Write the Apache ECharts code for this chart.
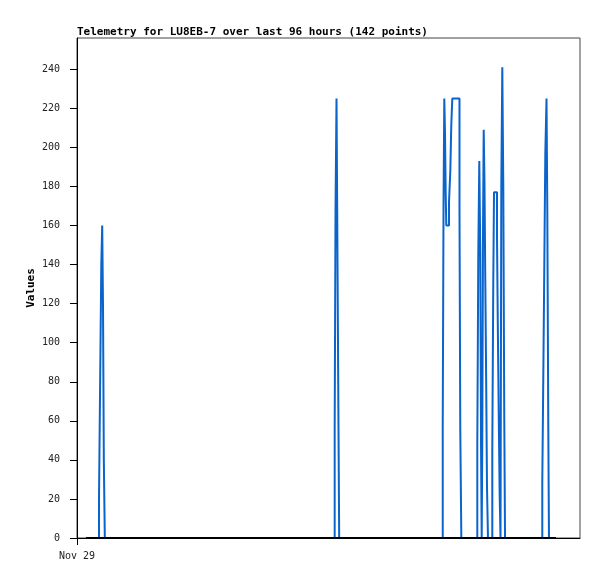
<!DOCTYPE html>
<html><head><meta charset="utf-8">
<script src="https://cdn.jsdelivr.net/npm/echarts@6/dist/echarts.min.js"></script>
<style>html,body{margin:0;padding:0;background:#fff}#c{width:597px;height:579px}</style>
</head><body><div id="c"></div>
<script>
// time in hours since axis start (Nov 29)
const hours = [1.72,
  4.20,4.33,4.49,4.64,4.81,4.96,5.12,5.31,
  49.18,49.34,49.53,49.66,49.91,50.04,
  69.80,69.95,70.10,70.23,70.37,70.48,71.00,71.25,71.44,71.63,73.00,73.15,73.35,
  76.40,76.59,76.78,76.97,77.11,77.24,77.35,77.49,77.62,77.77,77.93,78.10,78.25,78.44,
  79.26,79.45,79.59,80.16,80.31,80.48,80.67,80.83,80.98,81.17,81.36,81.55,81.69,
  88.80,89.00,89.19,89.38,89.61,89.76,89.95,90.08,91.42];
const values = [0,
  20,56,100,140,160,120,40,0,
  56,168,225,168,56,0,
  56,168,225,208,176,160,172,188,212,225,168,56,0,
  48,146,193,146,48,0,52,157,209,182,130,78,26,0,
  44,132,177,154,110,66,22,0,180,241,180,60,0,
  28,84,140,197,225,168,56,0,0];
const baseHours = [1.72, 91.42];
const baseValues = [0, 0];
const yTicks = [0,20,40,60,80,100,120,140,160,180,200,220,240];
const xLabel = 'Nov 29';
const titleText = 'Telemetry for LU8EB-7 over last 96 hours (142 points)';

const pts = hours.map((h,i)=>[h, values[i]]);
const base = baseHours.map((h,i)=>[h, baseValues[i]]);

const mono = 'DejaVu Sans Mono, monospace';
const chart = echarts.init(document.getElementById('c'), null, {renderer:'canvas'});
chart.setOption({
  animation:false,
  backgroundColor:'#fff',
  title:{text:titleText,left:77,top:27,padding:0,
    textStyle:{fontFamily:mono,fontSize:11,fontWeight:'bold',color:'#000'}},
  grid:{left:77,right:17,top:38,bottom:41,show:true,borderColor:'#444',borderWidth:1,backgroundColor:'#fff'},
  xAxis:{type:'value',min:0,max:96,
    axisLine:{show:true,lineStyle:{color:'#000',width:1}},
    axisTick:{show:true,length:7,customValues:[0],lineStyle:{color:'#000'}},
    axisLabel:{customValues:[0],formatter:()=>xLabel,fontFamily:mono,fontSize:10,color:'#222',margin:13},
    splitLine:{show:false}},
  yAxis:{type:'value',min:0,max:256,name:'Values',nameLocation:'middle',nameGap:40,nameMoveOverlap:false,
    nameTextStyle:{fontFamily:mono,fontSize:11,fontWeight:'bold',color:'#000'},
    axisLine:{show:true,lineStyle:{color:'#000',width:1}},
    axisTick:{show:true,length:7,customValues:yTicks,lineStyle:{color:'#000'}},
    axisLabel:{customValues:yTicks,fontFamily:mono,fontSize:10,color:'#222',margin:17},
    splitLine:{show:false}},
  series:[
    {type:'line',data:pts,step:'end',showSymbol:false,
      lineStyle:{color:'#0a64cc',width:2},z:2},
    {type:'line',data:base,showSymbol:false,
      lineStyle:{color:'#000',width:2},z:3}
  ]
});
</script></body></html>
